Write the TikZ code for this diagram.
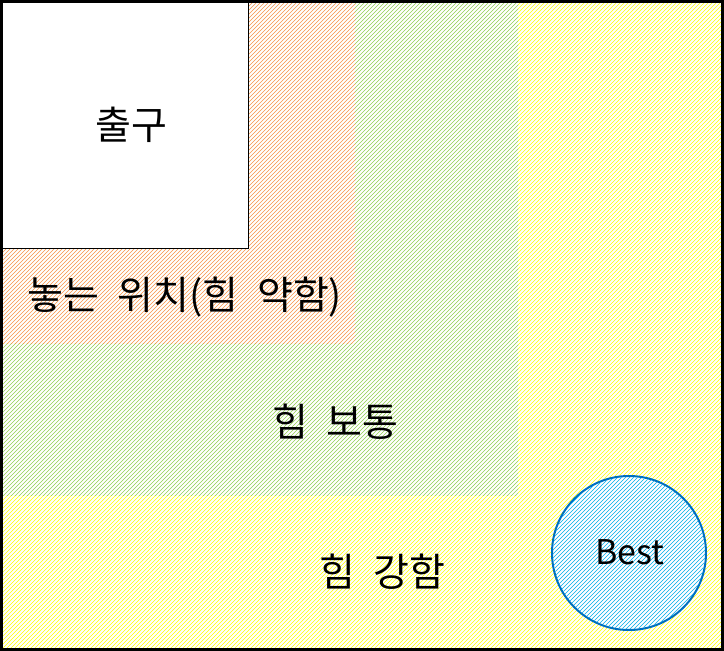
\documentclass[tikz,border=0pt]{standalone}
\usepackage{fontspec}
\setmainfont{Noto Sans CJK KR}[WordSpace=2.1]
\usetikzlibrary{patterns.meta}
\definecolor{hOrange}{RGB}{247,150,70}
\definecolor{hGreen}{RGB}{146,208,80}
\definecolor{hYellow}{RGB}{255,255,0}
\definecolor{hBlue}{RGB}{0,170,235}
\definecolor{cBlue}{RGB}{0,112,192}
\tikzset{
  hatch/.style={pattern={Lines[angle=45,distance=2.828427pt,line width=0.5pt]},pattern color=#1},
  lbl/.style={font=\fontsize{39}{44}\selectfont,inner sep=0pt,anchor=center},
  lbllat/.style={font=\fontsize{34}{40}\selectfont,inner sep=0pt,anchor=center},
}
\begin{document}
\begin{tikzpicture}[x=1pt,y=-1pt]
\useasboundingbox (0,0) rectangle (724,651);
\fill[white] (0,0) rectangle (724,651);
\fill[hatch=hYellow] (0,0) rectangle (724,651);
\fill[white] (0,0) rectangle (518,495);
\fill[hatch=hGreen] (0,0) rectangle (518,495);
\fill[white] (0,0) rectangle (355,343);
\fill[hatch=hOrange] (0,0) rectangle (355,343);
\node[draw=black,line width=1pt,fill=white,minimum width=248pt,minimum height=248pt,inner sep=0pt,anchor=north west] (exit) at (0,0) {};
\node[lbl] (exitlbl) at (131,125) {출구};
\node[lbl] (weak) at (185,297) {놓는 위치(힘 약함)};
\node[lbl] (mid) at (335,422) {힘 보통};
\node[lbl] (strong) at (382,572) {힘 강함};
\node[circle,draw=cBlue,line width=2pt,minimum size=154pt,inner sep=0pt,fill=white] (bestc) at (629,553) {};
\fill[hatch=hBlue] (bestc.center) circle (76pt);
\node[lbllat] (best) at (630,552) {Best};
\draw[line width=3pt] (1.5,1.5) rectangle (722.5,649.5);
\end{tikzpicture}
\end{document}
